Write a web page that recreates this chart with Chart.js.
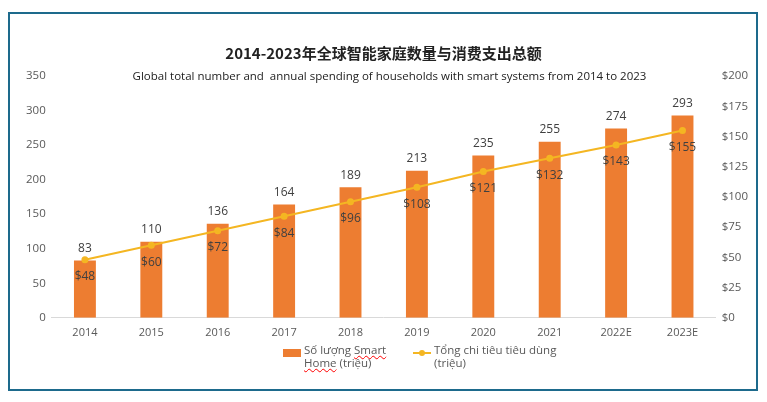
<!DOCTYPE html>
<html>
<head>
<meta charset="utf-8">
<script src="https://cdn.jsdelivr.net/npm/chart.js@4"></script>
<style>
  html, body { margin: 0; padding: 0; background: #fff; }
  #wrap { position: relative; width: 767px; height: 402px; }
  #frame { position: absolute; left: 8px; top: 12px; width: 746px; height: 375px; border: 2px solid #1d6a8c; box-sizing: content-box; }
  canvas { position: absolute; left: 0; top: 0; }
  .title { position: absolute; left: 0; width: 767px; text-align: center; color: #222; }
  #t1 { top: 42px; font: bold 15px "Noto Sans CJK SC", sans-serif; }
  #t2 { top: 68px; left: 6px; font: 11.5px "Open Sans", sans-serif; }
  .leg { position: absolute; font: 11.5px "Open Sans", sans-serif; color: #595959; line-height: 13px; }
  .sq { text-decoration: underline wavy red; text-decoration-thickness: 1px; }
</style>
</head>
<body>
<div id="wrap">
  <div id="frame"></div>
  <canvas id="chart" width="767" height="402"></canvas>
  <div class="title" id="t1">2014-2023年全球智能家庭数量与消费支出总额</div>
  <div class="title" id="t2">Global total number and&nbsp; annual spending of households with smart systems from 2014 to 2023</div>
  <div style="position:absolute;left:283px;top:349px;width:18px;height:8px;background:#ed7d31"></div>
  <div class="leg" style="left:304px;top:343px">Số lượng <span class="sq">Smart</span><br><span class="sq">Home</span> (triệu)</div>
  <div style="position:absolute;left:413px;top:352px;width:18px;height:2px;background:#f4b622"></div>
  <div style="position:absolute;left:419px;top:350px;width:6px;height:6px;border-radius:3px;background:#f4b622"></div>
  <div class="leg" style="left:434px;top:343px">Tổng chi tiêu tiêu dùng<br>(triệu)</div>
</div>
<script>
var years = ['2014', '2015', '2016', '2017', '2018', '2019', '2020', '2021', '2022E', '2023E'];
var households = [83, 110, 136, 164, 189, 213, 235, 255, 274, 293];
var spending = [48, 60, 72, 84, 96, 108, 121, 132, 143, 155];

// draws the value labels: counts above bars, dollars under line points
var valueLabels = {
  id: 'valueLabels',
  afterDatasetsDraw: function(chart) {
    var ctx = chart.ctx;
    ctx.save();
    ctx.font = '12px "Open Sans", sans-serif';
    ctx.fillStyle = '#404040';
    ctx.textAlign = 'center';
    ctx.textBaseline = 'middle';
    chart.getDatasetMeta(0).data.forEach(function(bar, i) {
      ctx.fillText(households[i], bar.x, bar.y - 12);
    });
    chart.getDatasetMeta(1).data.forEach(function(pt, i) {
      ctx.fillText('$' + spending[i], pt.x, pt.y + 17);
    });
    ctx.restore();
  }
};

var ctx = document.getElementById('chart').getContext('2d');
var chart = new Chart(ctx, {
  type: 'bar',
  data: {
    labels: years,
    datasets: [{
      type: 'bar',
      label: 'Số lượng Smart Home (triệu)',
      data: households,
      backgroundColor: '#ed7d31',
      yAxisID: 'y',
      barPercentage: 0.66,
      categoryPercentage: 0.5,
      order: 2
    }, {
      type: 'line',
      label: 'Tổng chi tiêu tiêu dùng (triệu)',
      data: spending,
      borderColor: '#f4b622',
      backgroundColor: '#f4b622',
      borderWidth: 2,
      pointRadius: 2.5,
      yAxisID: 'y1',
      order: 1
    }]
  },
  options: {
    responsive: false,
    animation: false,
    layout: { padding: { left: 20, right: 13, top: 76, bottom: 55 } },
    plugins: {
      legend: { display: false },
      tooltip: { enabled: false }
    },
    scales: {
      x: {
        grid: { display: false, drawTicks: false },
        border: { color: '#d9d9d9' },
        ticks: { color: '#595959', font: { size: 11, family: 'Open Sans' }, padding: 8 }
      },
      y: {
        position: 'left',
        min: 0, max: 350,
        grid: { display: false, drawTicks: false },
        border: { display: false },
        ticks: { stepSize: 50, color: '#595959', font: { size: 11.5, family: 'Open Sans' }, padding: 6 }
      },
      y1: {
        position: 'right',
        min: 0, max: 200,
        grid: { display: false, drawTicks: false },
        border: { display: false },
        ticks: {
          stepSize: 25, color: '#595959', font: { size: 11.5, family: 'Open Sans' }, padding: 6,
          callback: function(v) { return '$' + v; }
        }
      }
    }
  },
  plugins: [valueLabels]
});
</script>
</body>
</html>
